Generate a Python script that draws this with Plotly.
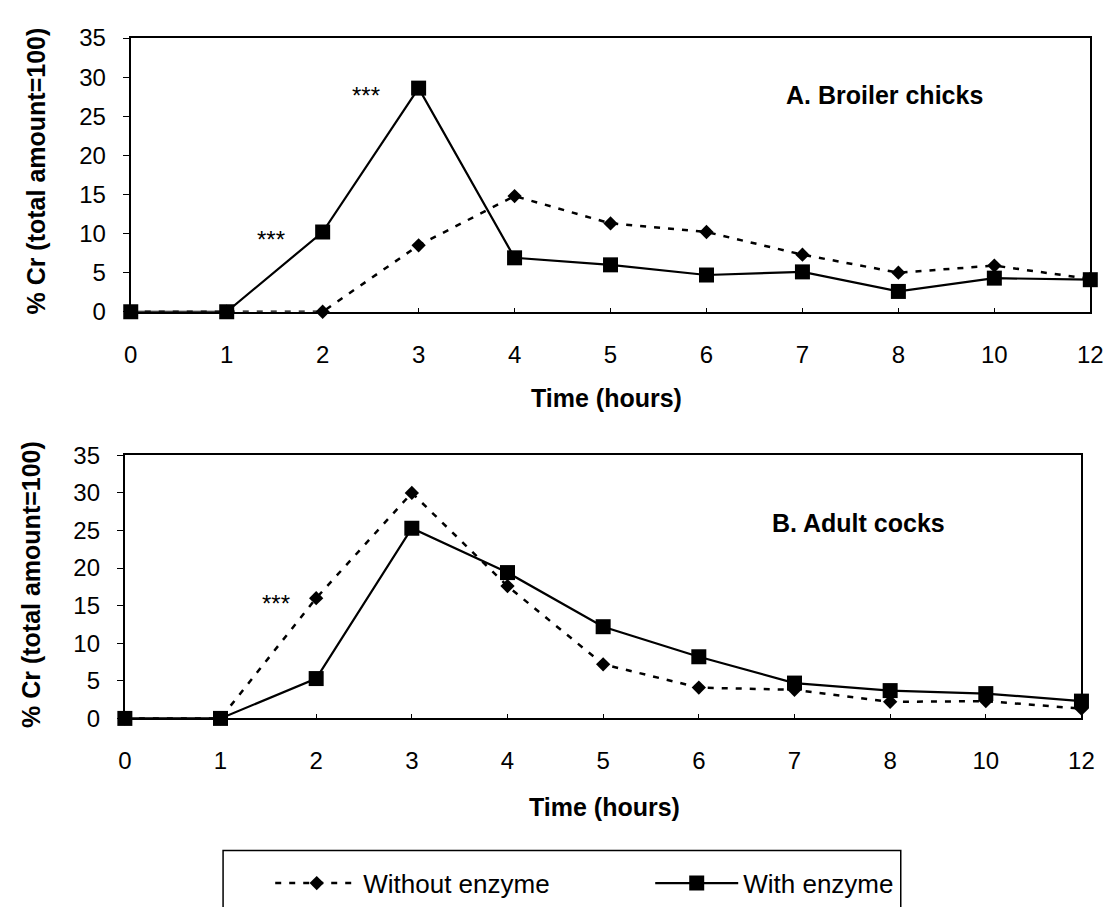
import plotly.graph_objects as go

time_labels = ["0", "1", "2", "3", "4", "5", "6", "7", "8", "10", "12"]
a_without = [0, 0, 0, 8.5, 14.8, 11.3, 10.2, 7.3, 5.0, 5.9, 4.2]
a_with = [0, 0, 10.2, 28.6, 6.9, 6.0, 4.7, 5.1, 2.6, 4.3, 4.1]
b_without = [0, 0, 16.0, 30.0, 17.6, 7.2, 4.1, 3.8, 2.2, 2.3, 1.3]
b_with = [0, 0, 5.3, 25.3, 19.4, 12.2, 8.2, 4.7, 3.7, 3.3, 2.3]
series_names = ["Without enzyme", "With enzyme"]
panel_titles = ["A. Broiler chicks", "B. Adult cocks"]
y_ticks = [0, 5, 10, 15, 20, 25, 30, 35]

W, H = 1120, 907
FONT = "Liberation Sans, Arial, sans-serif"

def px(x):
    return x / W

def py(y):
    return 1 - y / H

fig = go.Figure()

dash_style = dict(color="black", width=2.5, dash="6px,8px")
solid_style = dict(color="black", width=2.2)

for xa, ya, wo, wi, show in [("x", "y", a_without, a_with, False),
                              ("x2", "y2", b_without, b_with, True)]:
    fig.add_trace(go.Scatter(
        x=time_labels, y=wo, xaxis=xa, yaxis=ya, mode="lines+markers",
        name=series_names[0], line=dash_style,
        marker=dict(symbol="diamond", size=11, color="black"),
        cliponaxis=False, showlegend=show))
    fig.add_trace(go.Scatter(
        x=time_labels, y=wi, xaxis=xa, yaxis=ya, mode="lines+markers",
        name=series_names[1], line=solid_style,
        marker=dict(symbol="square", size=15, color="black"),
        cliponaxis=False, showlegend=show))

xcommon = dict(type="category", categoryorder="array", categoryarray=time_labels,
               range=[0, len(time_labels) - 1], showline=True, linecolor="black",
               linewidth=2, mirror=True, ticks="inside", ticklen=4, tickcolor="black",
               tickwidth=1, showgrid=False, zeroline=False,
               tickfont=dict(family=FONT, size=24, color="black"),
               ticklabelstandoff=20)
ycommon = dict(range=[0, 35], tickvals=y_ticks, showline=True, linecolor="black",
               linewidth=2, mirror=True, ticks="outside", ticklen=6, tickcolor="black",
               tickwidth=1, showgrid=False, zeroline=False,
               tickfont=dict(family=FONT, size=24, color="black"),
               ticklabelstandoff=12)

fig.update_layout(
    width=W, height=H, margin=dict(l=0, r=0, t=0, b=0),
    paper_bgcolor="white", plot_bgcolor="white",
    xaxis=dict(domain=[px(126), px(1103)], anchor="y", **xcommon),
    yaxis=dict(domain=[py(309), py(25)], anchor="x", **ycommon),
    xaxis2=dict(domain=[px(120), px(1094)], anchor="y2", **xcommon),
    yaxis2=dict(domain=[py(731), py(458)], anchor="x2", **ycommon),
    showlegend=True,
    legend=dict(orientation="h", x=px(268), xanchor="left", y=py(902), yanchor="middle",
                itemwidth=83, entrywidth=282, entrywidthmode="pixels",
                bgcolor="rgba(0,0,0,0)", borderwidth=0,
                font=dict(family=FONT, size=26, color="black"), traceorder="normal"),
)

ann = []
bold = dict(family=FONT, size=25, color="black")
def add_paper(text, x, y, angle=0, font=bold):
    ann.append(dict(text=text, x=px(x), y=py(y), xref="paper", yref="paper",
                    xanchor="center", yanchor="middle", textangle=angle,
                    showarrow=False, font=font))

# y axis titles
add_paper("<b>% Cr (total amount=100)</b>", 30, 163, -90)
add_paper("<b>% Cr (total amount=100)</b>", 25, 592, -90)
# x axis titles
add_paper("<b>Time (hours)</b>", 610, 398)
add_paper("<b>Time (hours)</b>", 608, 823)
# panel titles
add_paper("<b>" + panel_titles[0] + "</b>", 893, 84)
add_paper("<b>" + panel_titles[1] + "</b>", 867, 528)
# significance marks
star_font = dict(family=FONT, size=24, color="black")
for x, y, xr, yr in [(1.46, 10.0, "x", "y"), (2.45, 28.4, "x", "y"), (1.58, 16.1, "x2", "y2")]:
    ann.append(dict(text="***", x=x, y=y, xref=xr, yref=yr, xanchor="center",
                    yanchor="middle", showarrow=False, font=star_font, yshift=-6))
fig.update_layout(annotations=ann)

# legend frame
fig.add_shape(type="rect", xref="paper", yref="paper", x0=px(220), x1=px(910),
              y0=py(868), y1=py(940), line=dict(color="black", width=1.5),
              fillcolor="rgba(0,0,0,0)")

fig.write_html("out.html")
